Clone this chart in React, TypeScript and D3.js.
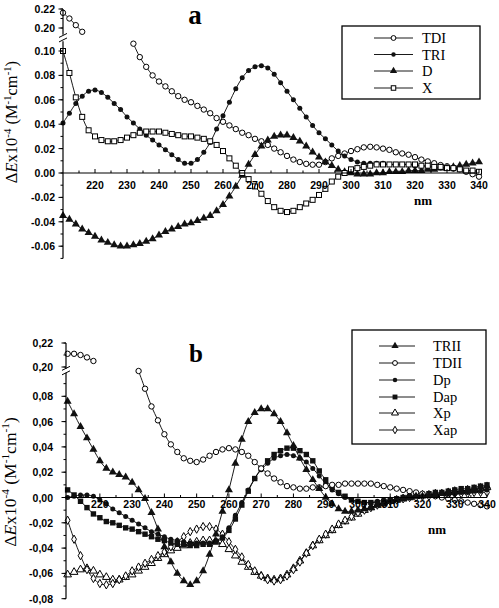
import React from "react";
import * as d3 from "d3";

// wavelengths (nm), sampled every 2 nm
const WAVELENGTHS = d3.range(210, 341, 2);

// ---- panel a series (ΔE x10^-4) ----
const TDI = [
  0.216, 0.210, 0.203, 0.196, 0.188, 0.179, 0.168, 0.155, 0.142, 0.129,
  0.117, 0.106, 0.095, 0.087, 0.080, 0.075, 0.071, 0.067, 0.063, 0.060,
  0.058, 0.055, 0.052, 0.049, 0.045, 0.042, 0.039, 0.036, 0.033, 0.031,
  0.028, 0.026, 0.023, 0.020, 0.017, 0.014, 0.011, 0.009, 0.0075, 0.0068,
  0.0068, 0.009, 0.012, 0.014, 0.016, 0.018, 0.0195, 0.021, 0.0215, 0.021,
  0.020, 0.019, 0.017, 0.016, 0.015, 0.013, 0.011, 0.0095, 0.008, 0.0065,
  0.0055, 0.004, 0.003, 0.001, -0.001, -0.003,
];
const TRI = [
  0.041, 0.049, 0.057, 0.063, 0.067, 0.068, 0.066, 0.062, 0.057, 0.052,
  0.046, 0.041, 0.036, 0.031, 0.027, 0.023, 0.019, 0.015, 0.011, 0.008,
  0.008, 0.011, 0.017, 0.025, 0.036, 0.047, 0.058, 0.069, 0.078, 0.084,
  0.087, 0.088, 0.086, 0.081, 0.074, 0.067, 0.060, 0.053, 0.046, 0.039,
  0.033, 0.028, 0.023, 0.018, 0.014, 0.011, 0.009, 0.008, 0.008, 0.008,
  0.008, 0.007, 0.007, 0.007, 0.007, 0.006, 0.006, 0.005, 0.005, 0.004,
  0.004, 0.003, 0.003, 0.002, 0.002, 0.001,
];
const D = [
  -0.035, -0.038, -0.042, -0.046, -0.049, -0.052, -0.055, -0.057, -0.059, -0.060,
  -0.060, -0.059, -0.058, -0.056, -0.054, -0.051, -0.048, -0.046, -0.044, -0.042,
  -0.041, -0.039, -0.037, -0.035, -0.031, -0.026, -0.019, -0.011, -0.002, 0.007,
  0.015, 0.022, 0.027, 0.030, 0.031, 0.031, 0.029, 0.026, 0.022, 0.017,
  0.013, 0.009, 0.006, 0.003, 0.001, 0.000, -0.001, -0.001, -0.001, 0.000,
  0.000, 0.001, 0.001, 0.001, 0.002, 0.002, 0.002, 0.003, 0.003, 0.004,
  0.004, 0.005, 0.006, 0.007, 0.008, 0.009,
];
const X = [
  0.100, 0.082, 0.062, 0.046, 0.035, 0.030, 0.027, 0.026, 0.026, 0.027,
  0.029, 0.031, 0.033, 0.034, 0.034, 0.034, 0.033, 0.032, 0.031, 0.030,
  0.030, 0.029, 0.028, 0.026, 0.023, 0.018, 0.012, 0.006, 0.000, -0.005,
  -0.011, -0.017, -0.023, -0.028, -0.031, -0.032, -0.031, -0.028, -0.025, -0.022,
  -0.018, -0.013, -0.007, -0.003, 0.000, 0.003, 0.004, 0.005, 0.006, 0.007,
  0.007, 0.007, 0.007, 0.007, 0.007, 0.007, 0.006, 0.006, 0.005, 0.005,
  0.004, 0.004, 0.003, 0.002, 0.002, 0.001,
];

// ---- panel b series ----
const TRII = [
  0.076, 0.066, 0.056, 0.047, 0.038, 0.029, 0.023, 0.020, 0.018, 0.016,
  0.012, 0.006, -0.001, -0.012, -0.025, -0.039, -0.051, -0.060, -0.066, -0.069,
  -0.066, -0.058, -0.045, -0.029, -0.011, 0.006, 0.027, 0.046, 0.060, 0.067,
  0.070, 0.070, 0.066, 0.060, 0.051, 0.041, 0.031, 0.022, 0.014, 0.007,
  0.000, -0.005, -0.009, -0.011, -0.011, -0.010, -0.009, -0.008, -0.006, -0.005,
  -0.003, -0.002, -0.001, 0.000, 0.001, 0.001, 0.002, 0.002, 0.003, 0.004,
  0.004, 0.005, 0.006, 0.007, 0.008, 0.009,
];
const TDII = [
  0.211, 0.211, 0.210, 0.208, 0.205, 0.196, 0.182, 0.166, 0.150, 0.134,
  0.117, 0.100, 0.086, 0.072, 0.061, 0.050, 0.042, 0.036, 0.031, 0.029,
  0.028, 0.030, 0.033, 0.036, 0.038, 0.039, 0.038, 0.036, 0.033, 0.028,
  0.023, 0.019, 0.015, 0.012, 0.009, 0.008, 0.007, 0.007, 0.008, 0.008,
  0.009, 0.010, 0.010, 0.011, 0.011, 0.011, 0.011, 0.011, 0.010, 0.009,
  0.008, 0.007, 0.006, 0.005, 0.004, 0.003, 0.002, 0.001, 0.000, -0.001,
  -0.002, -0.003, -0.004, -0.005, -0.006, -0.007,
];
const DP = [
  0.000, 0.001, 0.002, 0.002, 0.001, -0.002, -0.005, -0.009, -0.012, -0.015,
  -0.018, -0.021, -0.024, -0.027, -0.029, -0.031, -0.033, -0.034, -0.035, -0.036,
  -0.036, -0.036, -0.036, -0.034, -0.031, -0.024, -0.014, -0.004, 0.006, 0.015,
  0.022, 0.027, 0.031, 0.033, 0.034, 0.033, 0.031, 0.028, 0.023, 0.017,
  0.011, 0.006, 0.003, 0.000, -0.002, -0.003, -0.004, -0.004, -0.003, -0.002,
  -0.002, -0.001, 0.000, 0.000, 0.001, 0.001, 0.002, 0.002, 0.003, 0.003,
  0.003, 0.004, 0.004, 0.005, 0.005, 0.006,
];
const DAP = [
  0.006, 0.002, -0.003, -0.008, -0.013, -0.016, -0.019, -0.020, -0.022, -0.024,
  -0.025, -0.027, -0.029, -0.031, -0.033, -0.034, -0.036, -0.037, -0.037, -0.038,
  -0.038, -0.037, -0.037, -0.035, -0.032, -0.026, -0.017, -0.006, 0.005, 0.015,
  0.023, 0.029, 0.034, 0.037, 0.039, 0.039, 0.037, 0.034, 0.029, 0.021,
  0.014, 0.008, 0.004, 0.001, -0.002, -0.003, -0.004, -0.004, -0.004, -0.003,
  -0.002, -0.001, 0.000, 0.001, 0.002, 0.002, 0.003, 0.004, 0.004, 0.005,
  0.006, 0.007, 0.007, 0.008, 0.009, 0.010,
];
const XP = [
  -0.061, -0.059, -0.057, -0.056, -0.058, -0.061, -0.063, -0.065, -0.065, -0.063,
  -0.061, -0.058, -0.055, -0.052, -0.048, -0.045, -0.042, -0.040, -0.038, -0.036,
  -0.035, -0.034, -0.034, -0.035, -0.037, -0.041, -0.046, -0.051, -0.055, -0.059,
  -0.062, -0.064, -0.065, -0.064, -0.061, -0.056, -0.050, -0.044, -0.038, -0.034,
  -0.030, -0.026, -0.022, -0.019, -0.016, -0.013, -0.010, -0.008, -0.006, -0.004,
  -0.003, -0.002, -0.001, 0.000, 0.001, 0.002, 0.002, 0.003, 0.003, 0.004,
  0.005, 0.005, 0.006, 0.006, 0.007, 0.008,
];
const XAP = [
  -0.018, -0.033, -0.046, -0.057, -0.064, -0.068, -0.069, -0.068, -0.065, -0.062,
  -0.058, -0.055, -0.052, -0.049, -0.046, -0.043, -0.039, -0.035, -0.031, -0.027,
  -0.025, -0.023, -0.023, -0.025, -0.029, -0.035, -0.041, -0.047, -0.053, -0.058,
  -0.062, -0.065, -0.066, -0.065, -0.062, -0.057, -0.051, -0.044, -0.038, -0.033,
  -0.029, -0.025, -0.021, -0.018, -0.015, -0.012, -0.010, -0.008, -0.006, -0.004,
  -0.003, -0.002, -0.001, 0.000, 0.000, 0.001, 0.001, 0.002, 0.002, 0.002,
  0.003, 0.003, 0.003, 0.004, 0.004, 0.004,
];

// ---- ticks ----
const X_TICKS = [220, 230, 240, 250, 260, 270, 280, 290, 300, 310, 320, 330, 340];
const Y_TICKS_A = [-0.06, -0.04, -0.02, 0, 0.02, 0.04, 0.06, 0.08, 0.1];
const Y_TICKS_B = [-0.08, -0.06, -0.04, -0.02, 0, 0.02, 0.04, 0.06, 0.08];
const Y_TICKS_UP = [0.2, 0.22];

const LEGEND_A = ["TDI", "TRI", "D", "X"];
const LEGEND_B = ["TRII", "TDII", "Dp", "Dap", "Xp", "Xap"];

type Kind = "oc" | "fc" | "ft" | "os" | "fs" | "ot" | "od";

const fmtDot = d3.formatLocale({ decimal: ".", thousands: ",", grouping: [3], currency: ["", ""], minus: "-" }).format(".2f");
const fmtComma = d3.formatLocale({ decimal: ",", thousands: ".", grouping: [3], currency: ["", ""], minus: "-" }).format(".2f");

const SANS = "'Liberation Sans', Arial, sans-serif";
const SERIF = "'Liberation Serif', 'Times New Roman', serif";

function Marker({ kind, x, y, s = 1 }: { kind: Kind; x: number; y: number; s?: number }) {
  const sw = 1;
  switch (kind) {
    case "oc":
      return <circle cx={x} cy={y} r={2.7 * s} fill="#fff" stroke="#000" strokeWidth={sw} />;
    case "fc":
      return <circle cx={x} cy={y} r={2.5 * s} fill="#111" />;
    case "ft":
      return <path transform={`translate(${x},${y})`} d={d3.symbol(d3.symbolTriangle, 28 * s * s)()!} fill="#111" />;
    case "ot":
      return <path transform={`translate(${x},${y})`} d={d3.symbol(d3.symbolTriangle, 26 * s * s)()!} fill="#fff" stroke="#000" strokeWidth={sw} />;
    case "os":
      return <rect x={x - 2.5 * s} y={y - 2.5 * s} width={5 * s} height={5 * s} fill="#fff" stroke="#000" strokeWidth={sw} />;
    case "fs":
      return <rect x={x - 2.7 * s} y={y - 2.7 * s} width={5.4 * s} height={5.4 * s} fill="#111" />;
    case "od":
      return <path transform={`translate(${x},${y})`} d={d3.symbol(d3.symbolDiamond, 20 * s * s)()!} fill="#fff" stroke="#000" strokeWidth={sw} />;
  }
  return null;
}

type P = { w: number; v: number };

type SeriesDef = { name: string; values: number[]; kind: Kind };

type PanelCfg = {
  x: d3.ScaleLinear<number, number>;
  y: d3.ScaleLinear<number, number>;
  yUp: d3.ScaleLinear<number, number>;
  lowMin: number;
  lowMax: number;
  upMin: number;
  upMax: number;
  yTicks: number[];
  fmt: (v: number) => string;
  series: SeriesDef[];
  xLabelDy: number;
  yLabelX: number;
};

function Panel({ cfg }: { cfg: PanelCfg }) {
  const { x, y, yUp, lowMin, lowMax, upMin, upMax } = cfg;
  const ax = x.range()[0];
  const xEnd = x.range()[1];
  const y0 = y(0);
  const breakTop = yUp(upMin);
  const breakBot = y(lowMax);
  const breakMid = (breakTop + breakBot) / 2;

  const minorY = d3.range(Math.round(lowMin * 100), Math.round(lowMax * 100) + 1).map((k) => k / 100);
  const minorYUp = d3.range(Math.ceil(upMin * 100), Math.round(upMax * 100) + 1).map((k) => k / 100);
  const minorX = d3.range(215, 340, 10);

  return (
    <g>
      {/* series */}
      {cfg.series.map((s) => {
        const pts: P[] = WAVELENGTHS.map((w, i) => ({ w, v: s.values[i] }));
        const low = pts.filter((p) => p.v <= lowMax + 0.004);
        const up = pts.filter((p) => p.v >= upMin);
        const lineLow = d3.line<P>().x((p) => x(p.w)).y((p) => y(p.v)).curve(d3.curveCatmullRom);
        const lineUp = d3.line<P>().x((p) => x(p.w)).y((p) => yUp(p.v)).curve(d3.curveCatmullRom);
        return (
          <g key={s.name}>
            <path d={lineLow(low) || ""} fill="none" stroke="#000" strokeWidth={0.9} />
            {up.length > 1 && <path d={lineUp(up) || ""} fill="none" stroke="#000" strokeWidth={0.9} />}
            {low.map((p) => (
              <Marker key={"l" + p.w} kind={s.kind} x={x(p.w)} y={y(p.v)} />
            ))}
            {up.map((p) => (
              <Marker key={"u" + p.w} kind={s.kind} x={x(p.w)} y={yUp(p.v)} />
            ))}
          </g>
        );
      })}

      {/* x axis */}
      <line x1={ax} x2={xEnd} y1={y0} y2={y0} stroke="#000" strokeWidth={1.2} />
      {X_TICKS.map((t) => (
        <g key={"xt" + t}>
          <line x1={x(t)} x2={x(t)} y1={y0} y2={y0 - 4} stroke="#000" strokeWidth={1} />
          <text x={x(t)} y={y0 + cfg.xLabelDy} textAnchor="middle" fontFamily={SANS} fontWeight="bold" fontSize={10.5}>
            {t}
          </text>
        </g>
      ))}
      {minorX.map((t) => (
        <line key={"xm" + t} x1={x(t)} x2={x(t)} y1={y0} y2={y0 - 2.5} stroke="#000" strokeWidth={1} />
      ))}

      {/* y axis */}
      <line x1={ax} x2={ax} y1={y(lowMin)} y2={breakBot} stroke="#000" strokeWidth={1.2} />
      <line x1={ax} x2={ax} y1={yUp(upMax)} y2={breakTop} stroke="#000" strokeWidth={1.2} />
      {minorY.map((t) => (
        <line key={"ym" + t} x1={ax} x2={ax - 2.5} y1={y(t)} y2={y(t)} stroke="#000" strokeWidth={1} />
      ))}
      {minorYUp.map((t) => (
        <line key={"yum" + t} x1={ax} x2={ax - 2.5} y1={yUp(t)} y2={yUp(t)} stroke="#000" strokeWidth={1} />
      ))}
      {cfg.yTicks.map((t) => (
        <g key={"yt" + t}>
          <line x1={ax} x2={ax - 4.5} y1={y(t)} y2={y(t)} stroke="#000" strokeWidth={1} />
          <text x={cfg.yLabelX} y={y(t) + 4} textAnchor="end" fontFamily={SANS} fontWeight="bold" fontSize={10.5}>
            {cfg.fmt(t)}
          </text>
        </g>
      ))}
      {Y_TICKS_UP.map((t) => (
        <g key={"yut" + t}>
          <line x1={ax} x2={ax - 4.5} y1={yUp(t)} y2={yUp(t)} stroke="#000" strokeWidth={1} />
          <text x={cfg.yLabelX} y={yUp(t) + 4} textAnchor="end" fontFamily={SANS} fontWeight="bold" fontSize={10.5}>
            {cfg.fmt(t)}
          </text>
        </g>
      ))}
      {/* break marks */}
      <rect x={ax - 3} y={breakMid - 2} width={6} height={4} fill="#fff" />
      <line x1={ax - 4} x2={ax + 4} y1={breakMid - 0.5} y2={breakMid - 4.5} stroke="#000" strokeWidth={1} />
      <line x1={ax - 4} x2={ax + 4} y1={breakMid + 4} y2={breakMid} stroke="#000" strokeWidth={1} />
    </g>
  );
}

function YTitle({ cx, cy, size }: { cx: number; cy: number; size: number }) {
  const sup = size * 0.65;
  const up = -size * 0.38;
  return (
    <text transform={`translate(${cx},${cy}) rotate(-90)`} textAnchor="middle" fontFamily={SERIF} fontSize={size}>
      Δ<tspan fontStyle="italic">E</tspan>x10
      <tspan dy={up} fontSize={sup}>-4</tspan>
      <tspan dy={-up}> (M</tspan>
      <tspan dy={up} fontSize={sup}>-1</tspan>
      <tspan dy={-up}>cm</tspan>
      <tspan dy={up} fontSize={sup}>-1</tspan>
      <tspan dy={-up}>)</tspan>
    </text>
  );
}

function Legend({ x, y, w, h, names, kinds, rowY, lx1, lx2, mx, tx }: any) {
  return (
    <g>
      <rect x={x} y={y} width={w} height={h} fill="#fff" stroke="#000" strokeWidth={1.3} />
      {names.map((n: string, i: number) => (
        <g key={n}>
          <line x1={lx1} x2={lx2} y1={rowY[i]} y2={rowY[i]} stroke="#000" strokeWidth={0.9} />
          <Marker kind={kinds[i]} x={mx} y={rowY[i]} s={0.9} />
          <text x={tx} y={rowY[i] + 5} fontFamily={SERIF} fontSize={14.5}>
            {n}
          </text>
        </g>
      ))}
    </g>
  );
}

export default function App() {
  const seriesA: SeriesDef[] = [
    { name: "TDI", values: TDI, kind: "oc" },
    { name: "TRI", values: TRI, kind: "fc" },
    { name: "D", values: D, kind: "ft" },
    { name: "X", values: X, kind: "os" },
  ];
  const seriesB: SeriesDef[] = [
    { name: "Xp", values: XP, kind: "ot" },
    { name: "Xap", values: XAP, kind: "od" },
    { name: "Dp", values: DP, kind: "fc" },
    { name: "Dap", values: DAP, kind: "fs" },
    { name: "TDII", values: TDII, kind: "oc" },
    { name: "TRII", values: TRII, kind: "ft" },
  ];

  const cfgA: PanelCfg = {
    x: d3.scaleLinear([210, 340], [63, 479]),
    y: d3.scaleLinear([0, 0.1], [173, 51]),
    yUp: d3.scaleLinear([0.2, 0.22], [28, 9]),
    lowMin: -0.07,
    lowMax: 0.108,
    upMin: 0.193,
    upMax: 0.22,
    yTicks: Y_TICKS_A,
    fmt: fmtDot,
    series: seriesA,
    xLabelDy: 16,
    yLabelX: 55,
  };
  const cfgB: PanelCfg = {
    x: d3.scaleLinear([209.5, 340], [66, 487]),
    y: d3.scaleLinear([0, 0.08], [497.5, 396.3]),
    yUp: d3.scaleLinear([0.2, 0.22], [367, 343]),
    lowMin: -0.08,
    lowMax: 0.099,
    upMin: 0.198,
    upMax: 0.22,
    yTicks: Y_TICKS_B,
    fmt: fmtComma,
    series: seriesB,
    xLabelDy: 10,
    yLabelX: 53,
  };

  return (
    <svg width={499} height={608} style={{ position: "absolute", left: 0, top: 0, background: "#fff" }}>
      <rect x={0} y={0} width={499} height={608} fill="#fff" />
      <Panel cfg={cfgA} />
      <Panel cfg={cfgB} />

      <text x={195} y={24} textAnchor="middle" fontFamily={SERIF} fontWeight="bold" fontSize={27}>a</text>
      <text x={196} y={362} textAnchor="middle" fontFamily={SERIF} fontWeight="bold" fontSize={25}>b</text>

      <YTitle cx={17} cy={122} size={16.5} />
      <YTitle cx={16} cy={482} size={17.5} />

      <text x={423} y={205} textAnchor="middle" fontFamily={SERIF} fontWeight="bold" fontSize={13}>nm</text>
      <text x={437} y={534} textAnchor="middle" fontFamily={SERIF} fontWeight="bold" fontSize={13}>nm</text>

      <Legend x={342} y={26} w={138} h={73} names={LEGEND_A} kinds={["oc", "fc", "ft", "os"]}
        rowY={[38, 54.5, 71, 88]} lx1={374} lx2={413} mx={393.5} tx={422} />
      <Legend x={352} y={330} w={134} h={114} names={LEGEND_B} kinds={["ft", "oc", "fc", "fs", "ot", "od"]}
        rowY={[346, 363, 380, 397, 413, 430]} lx1={379} lx2={415} mx={395} tx={433} />
    </svg>
  );
}
